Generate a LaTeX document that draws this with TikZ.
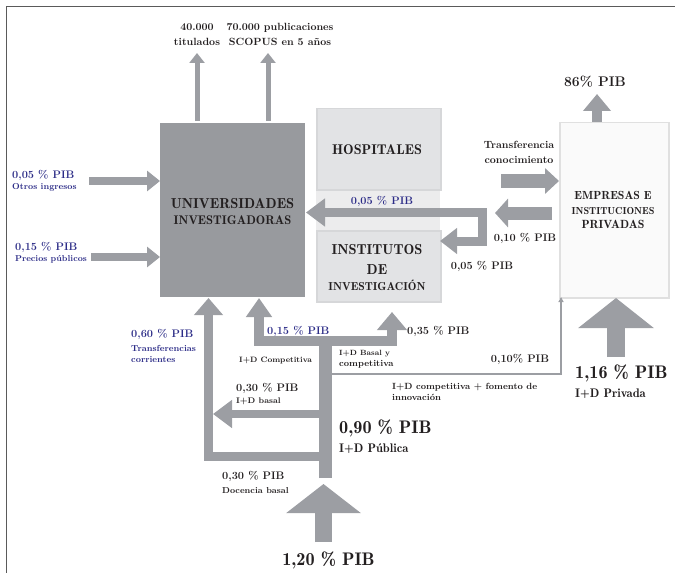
\documentclass[tikz,border=0pt]{standalone}
\usepackage{fontspec}
\newfontfamily\demifont[Extension=.otf]{lmromandemi10-regular}
\usetikzlibrary{arrows.meta}
\definecolor{agray}{RGB}{156,158,163}
\definecolor{ugray}{RGB}{152,154,158}
\definecolor{hfill}{RGB}{226,227,229}
\definecolor{hbord}{RGB}{214,215,217}
\definecolor{band}{RGB}{236,236,237}
\definecolor{ebord}{RGB}{224,224,224}
\definecolor{efill}{RGB}{250,250,250}
\definecolor{tblue}{RGB}{44,44,135}
\definecolor{tblack}{RGB}{35,31,32}
\definecolor{frame}{RGB}{90,90,90}
\begin{document}
\begin{tikzpicture}[x=1bp,y=-1bp,
  flow/.style={draw=agray,line width=#1},
  txt/.style={inner sep=0,text=tblack,anchor=base west},
  ctxt/.style={inner sep=0,text=tblack,anchor=base},
  fb/.style={font=\fontsize{#1}{#1}\selectfont\bfseries},
  fr/.style={font=\fontsize{#1}{#1}\selectfont\demifont},
  boxst/.style={inner sep=0,anchor=north west}]
\useasboundingbox (0,0) rectangle (675,573);
% frame
\draw[frame,line width=1.5bp] (6.5,573) -- (6.5,6.5) -- (675,6.5);
% boxes
\fill[band] (316,189) rectangle (440,230);
\node[boxst,fill=ugray,minimum width=145bp,minimum height=174bp] (univ) at (160,123) {};
\node[boxst,fill=hfill,draw=hbord,line width=1.5bp,minimum width=124bp,minimum height=81bp] (hosp) at (316,108) {};
\node[boxst,fill=hfill,draw=hbord,line width=1.5bp,minimum width=124bp,minimum height=71bp] (inst) at (316,230) {};
\node[boxst,fill=efill,draw=ebord,line width=1.5bp,minimum width=109bp,minimum height=175bp] (emp) at (559,122) {};
% coordinates
\coordinate (a1s) at (197,121); \coordinate (a1e) at (197,53);
\coordinate (a2s) at (268,121); \coordinate (a2e) at (268,53);
\coordinate (a3s) at (89,181);  \coordinate (a3e) at (160,181);
\coordinate (a4s) at (91,257);  \coordinate (a4e) at (160,257);
\coordinate (a5s) at (501,181); \coordinate (a5e) at (559,181);
\coordinate (a6s) at (552,213); \coordinate (a6e) at (495,213);
\coordinate (a7a) at (306,212.5); \coordinate (a7b) at (482.5,212.5);
\coordinate (a7c) at (482.5,241); \coordinate (a7d) at (440,241);
\coordinate (a8s) at (597,122); \coordinate (a8e) at (597,94);
\coordinate (a9s) at (616,357); \coordinate (a9e) at (616,298);
\coordinate (a10s) at (323.5,542); \coordinate (a10e) at (323.5,484);
\coordinate (trb) at (325,478); \coordinate (trt) at (325,341);
\coordinate (ta) at (259,298); \coordinate (tb) at (259,341);
\coordinate (tc) at (392,341); \coordinate (td) at (392,312);
\coordinate (la) at (325,456); \coordinate (lb) at (208.5,456); \coordinate (lc) at (208.5,298);
\coordinate (bs) at (325,414); \coordinate (be) at (213,414);
\coordinate (tha) at (332,374); \coordinate (thb) at (561,374); \coordinate (thc) at (561,297);
% arrows
\draw[flow=5bp,-{Triangle[width=15bp,length=10bp]}] (a1s) -- (a1e);
\draw[flow=5bp,-{Triangle[width=15bp,length=10bp]}] (a2s) -- (a2e);
\draw[flow=8bp,-{Triangle[width=20bp,length=13bp]}] (a3s) -- (a3e);
\draw[flow=8bp,-{Triangle[width=20bp,length=13bp]}] (a4s) -- (a4e);
\draw[flow=13bp,-{Triangle[width=25bp,length=14bp]}] (a5s) -- (a5e);
\draw[flow=13bp,-{Triangle[width=28bp,length=13bp]}] (a6s) -- (a6e);
\draw[flow=9bp,{Triangle[width=27bp,length=19bp]}-{Triangle[width=25bp,length=17bp]}] (a7a) -- (a7b) -- (a7c) -- (a7d);
\draw[flow=10bp,-{Triangle[width=27bp,length=17bp]}] (a8s) -- (a8e);
\draw[flow=18bp,-{Triangle[width=74bp,length=30bp]}] (a9s) -- (a9e);
\draw[flow=17bp,-{Triangle[width=73bp,length=29bp]}] (a10s) -- (a10e);
\draw[flow=13bp] (trb) -- (trt);
\draw[flow=10bp,{Triangle[width=25bp,length=19bp]}-{Triangle[width=29bp,length=18bp]}] (ta) -- (tb) -- (tc) -- (td);
\draw[flow=9bp,-{Triangle[width=28bp,length=17bp]}] (la) -- (lb) -- (lc);
\draw[flow=8bp,-{Triangle[width=27bp,length=19bp]}] (bs) -- (be);
\draw[flow=1.5bp,-{Triangle[width=5bp,length=5bp]}] (tha) -- (thb) -- (thc);
% box texts
\node[ctxt,fr=14.5] (u1) at (232.5,208) {UNIVERSIDADES};
\node[ctxt,fr=12.6] (u2) at (232.5,224) {INVESTIGADORAS};
\node[ctxt,fr=14.2] (h1) at (377,155) {HOSPITALES};
\node[ctxt,fr=14.5] (i1) at (377,254) {INSTITUTOS};
\node[ctxt,fr=14.5] (i2) at (377,274) {DE};
\node[ctxt,fr=11.6] (i3) at (377,290) {INVESTIGACIÓN};
\node[ctxt,fr=11.8] (e1) at (613,200) {EMPRESAS E};
\node[ctxt,fr=10.2] (e2) at (613,214) {INSTITUCIONES};
\node[ctxt,fr=11.9] (e3) at (613,228) {PRIVADAS};
% labels
\node[ctxt,fb=10.5] (l1) at (197,30.5) {40.000};
\node[ctxt,fb=10.5] (l2) at (197,46) {titulados};
\node[ctxt,fb=10.5] (l3) at (280,30.5) {70.000 publicaciones};
\node[ctxt,fb=10.5] (l4) at (280,46) {SCOPUS en 5 años};
\node[txt,fb=11,text=tblue] (l5) at (12,179) {0,05 \% PIB};
\node[txt,fb=8.7,text=tblue] (l6) at (12,190) {Otros ingresos};
\node[txt,fb=11,text=tblue] (l7) at (15,250) {0,15 \% PIB};
\node[txt,fb=8.6,text=tblue] (l8) at (15,261) {Precios públicos};
\node[ctxt,fb=14] (l9) at (595,87) {86\% PIB};
\node[ctxt,fb=10.5] (l10) at (519,149) {Transferencia};
\node[ctxt,fb=10.5] (l11) at (519,164) {conocimiento};
\node[ctxt,fb=11] (l12) at (525,241) {0,10 \% PIB};
\node[ctxt,fb=11,text=tblue] (l13) at (382,204) {0,05 \% PIB};
\node[ctxt,fb=11] (l14) at (482,269) {0,05 \% PIB};
\node[txt,fb=11,text=tblue] (l15) at (131,337) {0,60 \% PIB};
\node[txt,fb=8.8,text=tblue] (l16) at (131,351) {Transferencias};
\node[txt,fb=8.8,text=tblue] (l17) at (131,362) {corrientes};
\node[txt,fb=11,text=tblue] (l18) at (267,334) {0,15 \% PIB};
\node[txt,fb=7.8] (l19) at (239,362) {I+D Competitiva};
\node[txt,fb=11] (l20) at (236,391) {0,30 \% PIB};
\node[txt,fb=8.2] (l21) at (236,403) {I+D basal};
\node[txt,fb=11] (l22) at (222,479) {0,30 \% PIB};
\node[txt,fb=8.7] (l23) at (222,493) {Docencia basal};
\node[txt,fb=11] (l24) at (407,334) {0,35 \% PIB};
\node[txt,fb=7.6] (l25) at (339,355) {I+D Basal y};
\node[txt,fb=9] (l26) at (339,366) {competitiva};
\node[ctxt,fb=11] (l27) at (520,362) {0,10\% PIB};
\node[txt,fb=9] (l28) at (392,389) {I+D competitiva + fomento de};
\node[txt,fb=9] (l29) at (392,400) {innovación};
\node[txt,fr=18.3] (l30) at (339,433) {0,90 \% PIB};
\node[txt,fr=12.5] (l31) at (339,452) {I+D Pública};
\node[txt,fr=18.3] (l32) at (575,378) {1,16 \% PIB};
\node[txt,fr=12.5] (l33) at (575,397) {I+D Privada};
\node[ctxt,fr=18.3] (l34) at (328.5,565) {1,20 \% PIB};
\end{tikzpicture}
\end{document}
